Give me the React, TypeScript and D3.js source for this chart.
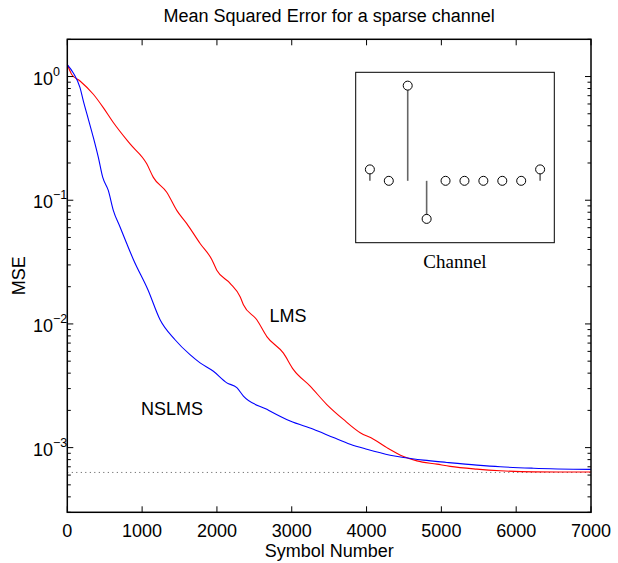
import React, { useEffect, useRef } from 'react'
import * as d3 from 'd3'

// LMS (red) curve
const lmsSymbols = [0, 59, 170, 348, 481, 615, 839, 1062, 1150, 1329, 1463, 1597, 1775, 1931, 1998, 2176, 2310, 2354, 2533, 2667, 2889, 3023, 3246, 3469, 3691, 3915, 4093, 4272, 4494, 4673, 4941, 5118, 5475, 5787, 6232, 7000]
const lmsMse = [1.25, 1.04, 0.92, 0.719, 0.561, 0.425, 0.285, 0.197, 0.153, 0.116, 0.0828, 0.0647, 0.0447, 0.0332, 0.0272, 0.0213, 0.0166, 0.0143, 0.0108, 0.0079, 0.0058, 0.00427, 0.00314, 0.00223, 0.00169, 0.00132, 0.00117, 0.001, 0.000848, 0.000781, 0.000735, 0.000705, 0.00067, 0.00065, 0.000637, 0.000635]

// NSLMS (blue) curve
const nslmsSymbols = [0, 80, 170, 214, 281, 348, 415, 473, 548, 615, 705, 794, 883, 1079, 1240, 1440, 1640, 1775, 1953, 2132, 2266, 2354, 2667, 2979, 3290, 3558, 3781, 4004, 4316, 4494, 4761, 5074, 5475, 5787, 6232, 7000]
const nslmsMse = [1.25, 1.07, 0.813, 0.635, 0.453, 0.322, 0.222, 0.1535, 0.12, 0.0828, 0.0608, 0.0447, 0.0332, 0.0188, 0.0108, 0.00745, 0.00564, 0.00484, 0.00414, 0.00334, 0.00305, 0.00261, 0.00204, 0.00164, 0.001407, 0.001205, 0.001064, 0.00097, 0.000869, 0.000832, 0.000792, 0.000759, 0.000722, 0.0007, 0.000682, 0.000667]

const mseFloor = 0.00063
const xTicks = [0, 1000, 2000, 3000, 4000, 5000, 6000, 7000]
const yDecades = [0, -1, -2, -3]
const channelTaps = [0.12, 0, 1, -0.4, 0, 0, 0, 0, 0, 0.12]

const W = 618, H = 563
const plot = { left: 67.3, right: 591, top: 39.3, bottom: 512.3 }
const inset = { left: 355.7, right: 554.3, top: 72.3, bottom: 242.7 }
const font = '"Liberation Sans", Arial, Helvetica, sans-serif'

export default function App() {
    const ref = useRef<SVGSVGElement>(null)

    useEffect(() => {
        const svg = d3.select(ref.current)
        svg.selectAll('*').remove()

        const x = d3.scaleLinear().domain([0, 7000]).range([plot.left, plot.right])
        const y = d3.scaleLog().domain([3e-4, 2]).range([plot.bottom, plot.top])

        svg.append('rect')
            .attr('width', W).attr('height', H).attr('fill', '#fff')

        // floor (dotted)
        svg.append('line')
            .attr('x1', plot.left).attr('x2', plot.right)
            .attr('y1', y(mseFloor)).attr('y2', y(mseFloor))
            .attr('stroke', '#555').attr('stroke-width', 1)
            .attr('stroke-dasharray', '1,3.5')

        const line = d3.line<[number, number]>().curve(d3.curveMonotoneX)
        const drawCurve = (xs: number[], ys: number[], color: string) => {
            svg.append('path')
                .attr('d', line(xs.map((s, i) => [x(s), y(ys[i])] as [number, number])))
                .attr('fill', 'none')
                .attr('stroke', color)
                .attr('stroke-width', 1.1)
        }
        drawCurve(lmsSymbols, lmsMse, '#ff0000')
        drawCurve(nslmsSymbols, nslmsMse, '#0000ff')

        // box
        svg.append('rect')
            .attr('x', plot.left).attr('y', plot.top)
            .attr('width', plot.right - plot.left).attr('height', plot.bottom - plot.top)
            .attr('fill', 'none').attr('stroke', '#000').attr('stroke-width', 1.5)

        // x ticks, top and bottom, inward
        xTicks.forEach(t => {
            svg.append('line')
                .attr('x1', x(t)).attr('x2', x(t))
                .attr('y1', plot.bottom).attr('y2', plot.bottom - 6)
                .attr('stroke', '#000')
            svg.append('line')
                .attr('x1', x(t)).attr('x2', x(t))
                .attr('y1', plot.top).attr('y2', plot.top + 6)
                .attr('stroke', '#000')
            svg.append('text')
                .attr('x', x(t)).attr('y', plot.bottom + 25)
                .attr('text-anchor', 'middle')
                .style('font-family', font).style('font-size', '18px')
                .text(t)
        })

        // y ticks, log minor ticks
        const yTicks = y.ticks()
        yTicks.forEach(t => {
            const major = Math.abs(Math.log10(t) - Math.round(Math.log10(t))) < 1e-9
            const len = major ? 6 : 3.5
            svg.append('line')
                .attr('x1', plot.left).attr('x2', plot.left + len)
                .attr('y1', y(t)).attr('y2', y(t))
                .attr('stroke', '#000')
            svg.append('line')
                .attr('x1', plot.right).attr('x2', plot.right - len)
                .attr('y1', y(t)).attr('y2', y(t))
                .attr('stroke', '#000')
        })

        yDecades.forEach(p => {
            const txt = svg.append('text')
                .attr('x', 33).attr('y', y(Math.pow(10, p)) + 8)
                .attr('text-anchor', 'start')
                .style('font-family', font).style('font-size', '18px')
            txt.append('tspan').text('10')
            txt.append('tspan')
                .attr('dy', -9)
                .style('font-size', '12.5px')
                .text(p === 0 ? '0' : '\u2212' + Math.abs(p))
        })

        // labels
        svg.append('text')
            .attr('x', (plot.left + plot.right) / 2).attr('y', 22)
            .attr('text-anchor', 'middle')
            .style('font-family', font).style('font-size', '18px')
            .text('Mean Squared Error for a sparse channel')

        svg.append('text')
            .attr('x', (plot.left + plot.right) / 2).attr('y', 557)
            .attr('text-anchor', 'middle')
            .style('font-family', font).style('font-size', '18px')
            .text('Symbol Number')

        svg.append('text')
            .attr('transform', `translate(25,${(plot.top + plot.bottom) / 2}) rotate(-90)`)
            .attr('text-anchor', 'middle')
            .style('font-family', font).style('font-size', '18px')
            .text('MSE')

        svg.append('text')
            .attr('x', 288).attr('y', 322)
            .attr('text-anchor', 'middle')
            .style('font-family', font).style('font-size', '18px')
            .text('LMS')

        svg.append('text')
            .attr('x', 172).attr('y', 415)
            .attr('text-anchor', 'middle')
            .style('font-family', font).style('font-size', '18px')
            .text('NSLMS')

        // inset: channel taps
        const ix = d3.scaleLinear().domain([0.25, 10.75]).range([inset.left, inset.right])
        const iy = d3.scaleLinear().domain([-0.65, 1.14]).range([inset.bottom, inset.top])

        svg.append('rect')
            .attr('x', inset.left).attr('y', inset.top)
            .attr('width', inset.right - inset.left).attr('height', inset.bottom - inset.top)
            .attr('fill', '#fff').attr('stroke', '#000').attr('stroke-width', 1)

        channelTaps.forEach((v, i) => {
            svg.append('line')
                .attr('x1', ix(i + 1)).attr('x2', ix(i + 1))
                .attr('y1', iy(0)).attr('y2', iy(v))
                .attr('stroke', '#666').attr('stroke-width', 1.6)
            svg.append('circle')
                .attr('cx', ix(i + 1)).attr('cy', iy(v)).attr('r', 4.5)
                .attr('fill', '#fff').attr('stroke', '#000').attr('stroke-width', 1)
        })

        svg.append('text')
            .attr('x', (inset.left + inset.right) / 2).attr('y', 268)
            .attr('text-anchor', 'middle')
            .style('font-family', '"Liberation Serif", "Times New Roman", serif')
            .style('font-size', '19px')
            .text('Channel')
    }, [])

    return (
        <svg ref={ref} width={W} height={H} style={{ position: 'absolute', left: 0, top: 0 }} />
    )
}
